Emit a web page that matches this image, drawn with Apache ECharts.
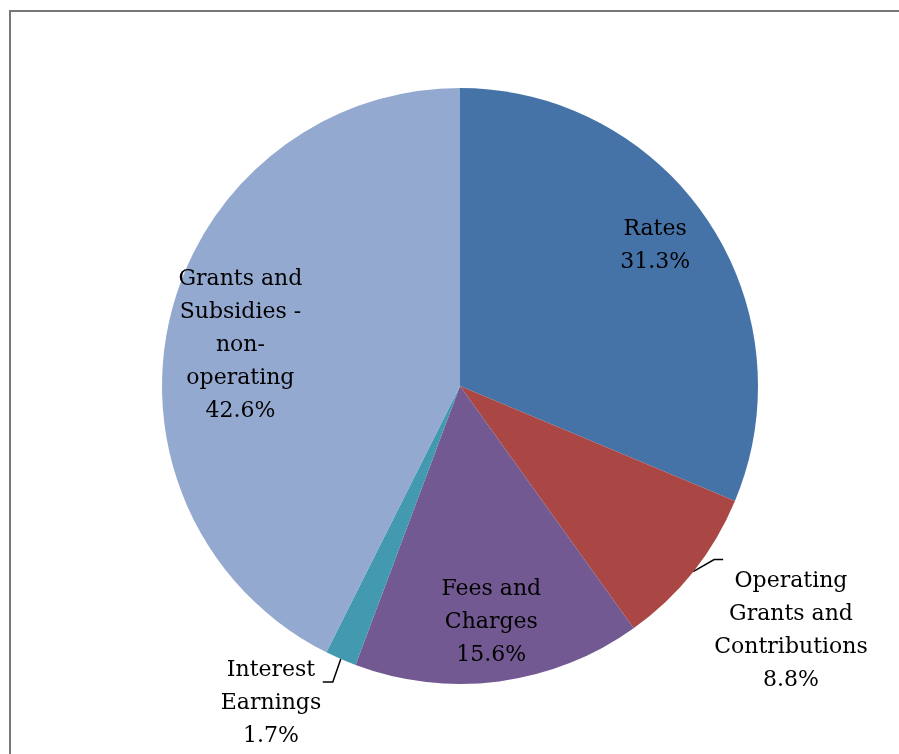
<!DOCTYPE html>
<html><head><meta charset="utf-8">
<script src="https://cdn.jsdelivr.net/npm/echarts@6/dist/echarts.min.js"></script>
<style>html,body{margin:0;padding:0;background:#fff}#c{width:899px;height:754px}</style>
</head><body><div id="c"></div>
<script>
const categories = ["Rates", "Operating Grants and Contributions", "Fees and Charges", "Interest Earnings", "Grants and Subsidies - non-operating"];
const labelLines = ["Rates", "Operating\nGrants and\nContributions", "Fees and\nCharges", "Interest\nEarnings", "Grants and\nSubsidies -\nnon-\noperating"];
const values = [31.3, 8.8, 15.6, 1.7, 42.6];
const colors = ["#4573A8", "#AA4744", "#725991", "#4299B0", "#94A9D0"];
const insideIdx = [0, 2, 4];

const chart = echarts.init(document.getElementById('c'), null, {renderer: 'canvas'});
const font = {fontFamily: 'DejaVu Serif', fontSize: 22, lineHeight: 33, color: '#000'};
const fmt = p => labelLines[p.dataIndex] + '\n' + values[p.dataIndex].toFixed(1) + '%';

const mainData = values.map((v, i) => ({
  name: categories[i], value: v,
  itemStyle: {color: colors[i]},
  label: {show: !insideIdx.includes(i)},
  labelLine: {show: !insideIdx.includes(i)}
}));
const labelData = values.map((v, i) => ({
  name: categories[i], value: v,
  label: {show: insideIdx.includes(i)}
}));

function leader(p, a, b) {
  const pts = p.labelLinePoints;
  if (!pts || !pts.length) return undefined;
  const s = pts[0];
  return [[s[0], s[1]], [s[0] + a[0], s[1] + a[1]], [s[0] + b[0], s[1] + b[1]]];
}

chart.setOption({
  animation: false,
  graphic: [{type: 'rect', shape: {x: 10, y: 11, width: 1000, height: 1000}, style: {fill: 'none', stroke: '#777', lineWidth: 2}, silent: true, z: -10}],
  series: [
    {
      type: 'pie', center: [460, 386], radius: [0, 298], startAngle: 90, clockwise: true,
      data: mainData, silent: true,
      label: Object.assign({position: 'outside', formatter: fmt, align: 'center'}, font),
      labelLine: {length: 14, length2: 10, smooth: false, lineStyle: {color: '#000', width: 1.5}},
      emphasis: {disabled: true},
      labelLayout: function (p) {
        if (p.dataIndex === 1) return {x: 791, y: 631, align: 'center', verticalAlign: 'middle', labelLinePoints: leader(p, [21, -12], [30, -12])};
        if (p.dataIndex === 3) return {x: 271, y: 703, align: 'center', verticalAlign: 'middle', labelLinePoints: leader(p, [-8, 23], [-18, 23])};
        return {};
      }
    },
    {
      type: 'pie', center: [460, 386], radius: [0, 470], startAngle: 90, clockwise: true,
      data: labelData, silent: true,
      itemStyle: {color: 'rgba(0,0,0,0)'},
      label: Object.assign({position: 'inner', formatter: fmt, align: 'center'}, font),
      labelLine: {show: false},
      emphasis: {disabled: true},
      labelLayout: function (p) {
        if (p.dataIndex === 0) return {dx: -3, dy: -8};
        if (p.dataIndex === 4) return {dx: 12, dy: 14};
        return {};
      }
    }
  ]
});
</script></body></html>
